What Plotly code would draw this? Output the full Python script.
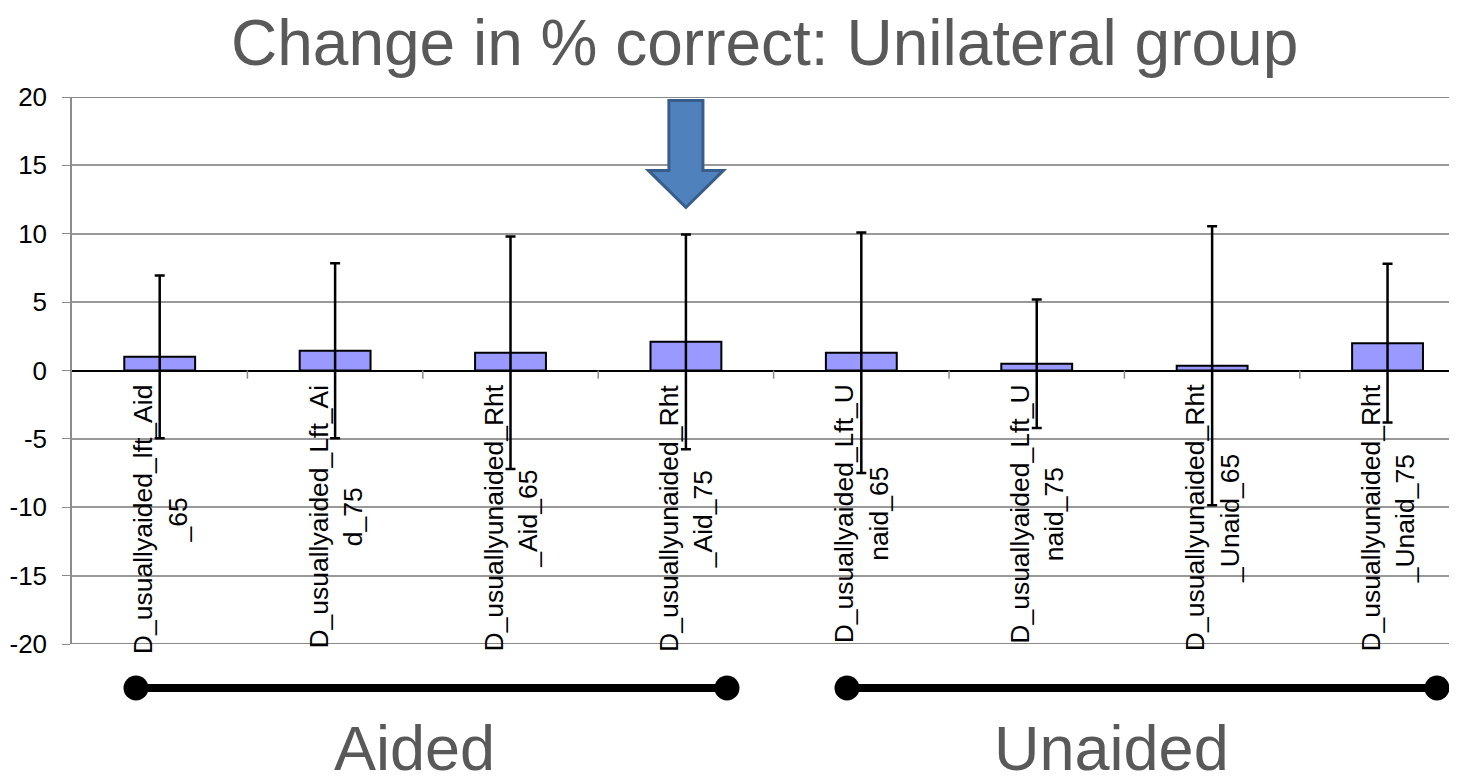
import plotly.graph_objects as go

categories = [
    "D_usuallyaided_lft_Aid<br>_65",
    "D_usuallyaided_Lft_Ai<br>d_75",
    "D_usuallyunaided_Rht<br>_Aid_65",
    "D_usuallyunaided_Rht<br>_Aid_75",
    "D_usuallyaided_Lft_U<br>naid_65",
    "D_usuallyaided_Lft_U<br>naid_75",
    "D_usuallyunaided_Rht<br>_Unaid_65",
    "D_usuallyunaided_Rht<br>_Unaid_75",
]
values = [1.0, 1.45, 1.3, 2.1, 1.3, 0.5, 0.35, 2.0]
errors = [5.95, 6.4, 8.5, 7.85, 8.8, 4.7, 10.2, 5.8]
y_ticks = [-20, -15, -10, -5, 0, 5, 10, 15, 20]
y_tick_text = ["-20", "-15", "-10", "-5", "0", "5", "10", "15", "20"]
title_text = "Change in % correct: Unilateral group"
group_labels = ["Aided", "Unaided"]

FONT = "Liberation Sans, Arial, sans-serif"
idx = list(range(len(categories)))

# page has an 8px body margin; positions below are in page pixels
PL, PT, PB, PR = 72, 97, 644, 1457
PW, PH = PR - PL, PB - PT

def px_x(px):
    return (px - PL) / PW

def px_y(py):
    return (PB - py) / PH

fig = go.Figure()
fig.add_trace(go.Bar(
    x=idx, y=values, width=0.404,
    marker=dict(color="#9999FF", line=dict(color="black", width=2)),
    error_y=dict(type="data", array=errors, visible=True,
                 color="black", thickness=2.5, width=5),
    showlegend=False,
))

annotations = []
for i, lab in enumerate(categories):
    annotations.append(dict(
        x=i, y=0, xref="x", yref="y", text=lab, showarrow=False,
        textangle=-90, xanchor="center", yanchor="top", yshift=-12,
        align="center", font=dict(family=FONT, size=26.5, color="black"),
    ))

annotations.append(dict(
    x=px_x(764), y=px_y(43), xref="paper", yref="paper",
    text=title_text, showarrow=False, xanchor="center", yanchor="middle",
    font=dict(family=FONT, size=64, color="#595959"),
))
for lab, px in zip(group_labels, [414, 1111]):
    annotations.append(dict(
        x=px_x(px), y=px_y(748), xref="paper", yref="paper",
        text=lab, showarrow=False, xanchor="center", yanchor="middle",
        font=dict(family=FONT, size=63, color="#595959"),
    ))

shapes = []
for i in range(len(categories) - 1):
    shapes.append(dict(type="line", xref="x", yref="y", x0=i + 0.5, x1=i + 0.5,
                       y0=0, y1=-0.6, line=dict(color="#8c8c8c", width=1.5)))

ly = px_y(688)
for x0p, x1p in [(136, 727), (847, 1437)]:
    a, b = px_x(x0p), px_x(x1p)
    shapes.append(dict(type="line", xref="paper", yref="paper", x0=a, x1=b,
                       y0=ly, y1=ly, line=dict(color="black", width=8)))
    for c in (a, b):
        shapes.append(dict(type="circle", xref="paper", yref="paper",
                           xsizemode="pixel", ysizemode="pixel",
                           xanchor=c, yanchor=ly, x0=-12.5, x1=12.5,
                           y0=-12.5, y1=12.5, fillcolor="black",
                           line=dict(color="black", width=0)))

cx = 3
sw, hw = 0.097, 0.214
y_top, y_head, y_tip = 19.75, 14.63, 11.92
path = (f"M {cx - sw} {y_top} L {cx + sw} {y_top} L {cx + sw} {y_head} "
        f"L {cx + hw} {y_head} L {cx} {y_tip} L {cx - hw} {y_head} "
        f"L {cx - sw} {y_head} Z")
shapes.append(dict(type="path", xref="x", yref="y", path=path,
                   fillcolor="#4F81BD", line=dict(color="#385D8A", width=3)))

# darker top and bottom boundary gridlines
for yv in (y_ticks[0], y_ticks[-1]):
    shapes.append(dict(type="line", xref="paper", yref="y", x0=0, x1=1,
                       y0=yv, y1=yv, line=dict(color="#888888", width=2)))

fig.update_layout(
    width=1457 - 8, height=776 - 8,
    margin=dict(l=PL - 8, r=0, t=PT - 8, b=776 - PB),
    paper_bgcolor="white", plot_bgcolor="white",
    font=dict(family=FONT, color="black"),
    xaxis=dict(range=[-0.5, 7.396], showticklabels=False, showgrid=False,
               zeroline=False, showline=False, ticks=""),
    yaxis=dict(range=[-20, 20], tickvals=y_ticks, ticktext=y_tick_text,
               ticks="outside", ticklen=8, ticklabelstandoff=10,
               tickcolor="#8c8c8c", showline=True, linecolor="#8c8c8c",
               linewidth=1.5, showgrid=True, gridcolor="#999999", gridwidth=1.5,
               zeroline=True, zerolinecolor="black", zerolinewidth=1.5,
               tickfont=dict(family=FONT, size=26, color="black")),
    annotations=annotations,
    shapes=shapes,
)

fig.write_html("out.html")
